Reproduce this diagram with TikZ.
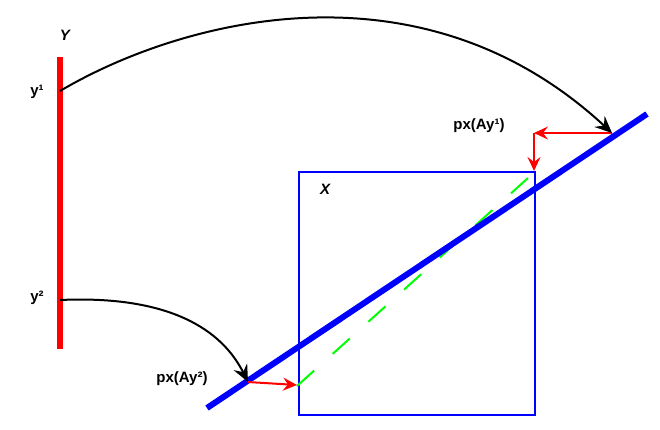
\documentclass[tikz,border=0pt]{standalone}
\usepackage{fontspec}
\setmainfont{Liberation Sans}
\usetikzlibrary{arrows.meta}
\usetikzlibrary{positioning}
\definecolor{projRed}{HTML}{FF0000}
\definecolor{setBlue}{HTML}{0000FF}
\definecolor{dashGreen}{HTML}{00FF00}

\begin{document}
\begin{tikzpicture}[x=1pt,y=-1pt,
  lbl/.style={font=\fontsize{15}{17}\selectfont\bfseries},
  setlbl/.style={font=\fontsize{15}{17}\selectfont\bfseries\itshape},
  mapto/.style={line width=2pt,-{Stealth[length=17pt,width=15pt,inset=6pt]}},
  proj/.style={projRed,line width=2pt,-{Stealth[length=14pt,width=13pt,inset=5pt]}}]
  \useasboundingbox (0,0) rectangle (660,429);

  %% the set Y
  \draw[projRed,line width=6pt] (60,57) -- (60,349);
  \node[setlbl] (Ylab) at (65,35) {Y};
  \coordinate (yone) at (60,91);
  \coordinate (ytwo) at (60,300);
  \node[lbl] (yonelab) at (37,92) {y¹};
  \node[lbl] (ytwolab) at (37,298) {y²};

  %% the set X and the line
  \draw[setBlue,line width=2pt] (299,172) rectangle (535,415);
  \node[setlbl] (Xlab) at (325,189) {X};
  \draw[dashGreen,line width=2pt,dash pattern=on 23pt off 25pt] (297,386) -- (528,178);
  \draw[setBlue,line width=6pt] (207,408) -- (647,114);

  % images and projections
  \coordinate (Ayone) at (612,133);
  \coordinate (Aytwo) at (248,382);
  \coordinate (corner) at (534,133);
  \coordinate (pxone) at (534,171);
  \coordinate (pxtwo) at (297,385);
  \draw[proj] (Ayone) -- (corner);
  \draw[proj] (corner) -- (pxone);
  \draw[proj] (Aytwo) -- (pxtwo);
  \node[lbl] (pxonelab) at (479,126) {px(Ay¹)};
  \node[lbl] (pxtwolab) at (182,379) {px(Ay²)};

  % the map A
  \draw[mapto] (yone) .. controls (180,20) and (420,-45) .. (Ayone);
  \draw[mapto] (ytwo) .. controls (170,295) and (222,330) .. (Aytwo);
\end{tikzpicture}
\end{document}
